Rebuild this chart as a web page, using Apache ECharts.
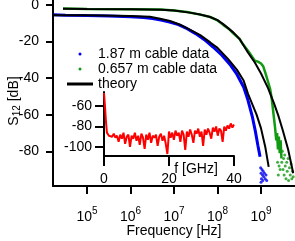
<!DOCTYPE html>
<html><head><meta charset="utf-8">
<script src="https://cdn.jsdelivr.net/npm/echarts@6/dist/echarts.min.js"></script>
<style>html,body{margin:0;padding:0;background:#fff}#c{width:295px;height:241px}</style>
</head><body><div id="c"></div>
<script>
// ---- tick values ----
const xTickValues = [1e5, 1e6, 1e7, 1e8, 1e9];
const yTickValues = [0, -20, -40, -60, -80];
const insetXTickValues = [0, 20, 40];
const insetYTickValues = [-60, -80, -100];

// ---- 1.87 m cable data ----
const cable187Freq = [1.7e4, 3.2e4, 1e5, 3.2e5, 1e6, 2e6, 3.2e6, 5e6, 7.9e6, 1.26e7, 2e7, 3.2e7, 5e7, 7.9e7, 1.26e8, 2e8, 2.8e8, 4e8, 5e8, 6.3e8, 7.4e8, 8.5e8, 9.5e8];
const cable187dB   = [-5.3, -5.6, -5.8, -6.0, -6.4, -6.9, -7.4, -8.3, -9.3, -10.8, -13, -15.8, -19, -23, -27.5, -33, -38, -45, -52, -61, -69, -77, -83];
const cable187TailFreq = [9.8e8, 1.0e9, 1.0e9, 1.02e9, 1.05e9, 1.08e9, 1.1e9, 1.12e9, 1.15e9, 1.2e9, 1.25e9, 1.3e9, 1.35e9];
const cable187TailDB   = [-89, -92, -97, -95, -90, -93, -96, -91, -94, -92, -95, -93, -96];

// ---- 0.657 m cable data ----
const cable657Freq = [2.8e4, 1e5, 1e6, 5e6, 1e7, 2e7, 4e7, 6.8e7, 1e8, 1.35e8, 1.8e8, 2.3e8, 3.2e8, 3.6e8, 5e8, 6.3e8, 7.2e8, 8.5e8, 1e9, 1.12e9, 1.29e9, 1.45e9, 1.62e9, 1.78e9, 1.9e9, 2.1e9, 2.24e9, 2.34e9, 2.45e9, 2.57e9, 2.69e9, 2.82e9, 2.95e9];
const cable657dB   = [-2.0, -2.2, -2.3, -2.5, -3.0, -3.9, -5.3, -6.6, -8.5, -10.9, -13, -15.5, -18.5, -20.5, -25, -28.5, -30.5, -31, -32, -33.5, -38, -42, -46, -52, -58, -67, -74, -70, -79, -72, -81, -74, -84];
const cable657TailFreq = [2.4e9, 2.5e9, 2.6e9, 2.75e9, 3.0e9, 3.1e9, 3.2e9, 3.3e9, 3.4e9, 3.5e9, 3.6e9, 3.75e9, 3.9e9, 4.0e9, 4.2e9, 4.3e9, 4.5e9, 4.7e9, 4.9e9, 5.1e9, 5.3e9, 5.5e9];
const cable657TailDB   = [-86, -93, -88, -90, -86, -80, -90, -84, -93, -82, -88, -95, -86, -91, -84, -96, -89, -93, -87, -95, -91, -94];

// ---- theory ----
const theory187Freq = [1.66e4, 1e5, 1e6, 2.8e6, 4.8e6, 8.1e6, 1.38e7, 2.3e7, 4e7, 6.8e7, 1e8, 1.74e8, 2.8e8, 4e8, 5e8, 7.9e8, 1e9, 1.26e9, 1.5e9];
const theory187dB   = [-5.6, -5.7, -6.0, -6.5, -7.5, -8.8, -10.8, -13.5, -16.5, -20.5, -23.5, -29.5, -35.5, -41.5, -48.5, -60, -67.5, -78, -88.5];
const theory657Freq = [2.8e4, 1e5, 1e6, 5e6, 1e7, 2.3e7, 4e7, 6.8e7, 1e8, 1.35e8, 2.3e8, 3.3e8, 5e8, 7.2e8, 1e9, 1.45e9, 2e9, 2.5e9, 3.16e9, 4.2e9, 5.5e9];
const theory657dB   = [-2.1, -2.2, -2.3, -2.6, -3.1, -4.2, -5.2, -6.6, -8.3, -10.5, -15, -19, -26, -31.5, -37.5, -45.5, -54, -60.5, -68.5, -79, -92];

// ---- inset: f [GHz] vs dB ----
const insetFreqGHz = [0, 0.3, 0.6, 0.9, 1.5, 2, 2.5, 3, 3.5, 4, 4.5, 5, 5.5, 6, 6.5, 7, 7.5, 8, 8.5, 9, 9.5, 10, 10.5, 11, 11.5, 12, 12.5, 13, 13.5, 14, 14.5, 15, 15.5, 16, 16.5, 17, 17.5, 18, 18.5, 19, 19.5, 20, 20.5, 21, 21.5, 22, 22.5, 23, 23.5, 24, 24.5, 25, 25.5, 26, 26.5, 27, 27.5, 28, 28.5, 29, 29.5, 30, 30.5, 31, 31.5, 32, 32.5, 33, 33.5, 34, 34.5, 35, 35.5, 36, 36.5, 37, 37.5, 38, 38.5, 39, 39.5, 40];
const insetdB = [-47, -60, -75, -86, -89, -88, -90, -87, -91, -89, -95, -88, -92, -86, -97, -90, -88, -100, -89, -92, -86, -94, -89, -98, -87, -91, -102, -88, -93, -86, -96, -89, -91, -88, -99, -90, -87, -94, -89, -97, -107, -85, -91, -86, -93, -84, -89, -86, -95, -84, -88, -103, -85, -90, -83, -88, -96, -84, -87, -82, -90, -85, -99, -83, -88, -82, -86, -92, -81, -85, -80, -89, -82, -84, -95, -80, -84, -79, -82, -77, -81, -78];

const zip = (a, b) => a.map((v, i) => [v, b[i]]);

const FONT = 'Liberation Sans, Arial, sans-serif';
const BLUE = '#0000f0', GREEN = '#139a13', RED = '#ff0000';
const txt = { color: '#000', fontFamily: FONT, fontSize: 14 };
const lineBlack = { onZero: false, lineStyle: { color: '#000', width: 2 } };

const chart = echarts.init(document.getElementById('c'), null, { renderer: 'canvas' });
chart.setOption({
  animation: false,
  backgroundColor: '#fff',
  textStyle: { fontFamily: FONT },
  grid: [
    { left: 53, top: 0, right: 0, bottom: 55, outerBoundsMode: 'none', containLabel: false },
    { left: 104, top: 92, width: 130, height: 64, outerBoundsMode: 'none', containLabel: false }
  ],
  legend: {
    orient: 'vertical', left: 62, top: 42, itemWidth: 26, itemHeight: 3, itemGap: 1,
    textStyle: Object.assign({}, txt, { lineHeight: 14 }),
    data: [
      { name: '1.87 m cable data', icon: 'circle' },
      { name: '0.657 m cable data', icon: 'circle' },
      { name: 'theory', icon: 'rect' }
    ]
  },
  xAxis: [
    {
      type: 'log', gridIndex: 0, logBase: 10, min: 16520, max: 6.04e9,
      name: 'Frequency [Hz]', nameLocation: 'middle', nameGap: 38, nameMoveOverlap: false,
      nameTextStyle: txt,
      axisLine: lineBlack,
      axisTick: { show: true, customValues: xTickValues, length: 8, lineStyle: { color: '#000', width: 2 } },
      axisLabel: {
        customValues: xTickValues, margin: 20, color: '#000', fontFamily: FONT, fontSize: 14,
        formatter: v => '10{sup|' + Math.round(Math.log10(v)) + '}',
        rich: { sup: { fontSize: 10, fontFamily: FONT, color: '#000', padding: [0, 0, 12, 0] } }
      },
      splitLine: { show: false }, minorTick: { show: false }
    },
    {
      type: 'value', gridIndex: 1, min: 0, max: 40,
      name: 'f [GHz]', nameLocation: 'middle', nameGap: 6, nameMoveOverlap: false,
      nameTextStyle: Object.assign({}, txt, { padding: [0, 0, 0, 54] }),
      axisLine: lineBlack,
      axisTick: { show: true, customValues: insetXTickValues, length: 10, lineStyle: { color: '#000', width: 2 } },
      axisLabel: { customValues: insetXTickValues, margin: 16, color: '#000', fontFamily: FONT, fontSize: 14 },
      splitLine: { show: false }
    }
  ],
  yAxis: [
    {
      type: 'value', gridIndex: 0, min: -99, max: 2.7,
      name: 'S{sub|12} [dB]', nameLocation: 'middle', nameGap: 31, nameMoveOverlap: false,
      nameTextStyle: Object.assign({}, txt, {
        padding: [0, 16, 0, 0],
        rich: { sub: { fontSize: 10, fontFamily: FONT, color: '#000', padding: [6, 0, 0, 0] } }
      }),
      axisLine: Object.assign({ show: true }, lineBlack),
      axisTick: { show: true, customValues: yTickValues, length: 7, lineStyle: { color: '#000', width: 2 } },
      axisLabel: { customValues: yTickValues, margin: 14, color: '#000', fontFamily: FONT, fontSize: 14 },
      splitLine: { show: false }
    },
    {
      type: 'value', gridIndex: 1, min: -109, max: -46,
      axisLine: Object.assign({ show: true }, lineBlack),
      axisTick: { show: true, customValues: insetYTickValues, length: 9, lineStyle: { color: '#000', width: 2 } },
      axisLabel: { customValues: insetYTickValues, margin: 12, color: '#000', fontFamily: FONT, fontSize: 14 },
      splitLine: { show: false }
    }
  ],
  series: [
    { name: '1.87 m cable data', type: 'line', xAxisIndex: 0, yAxisIndex: 0, data: zip(cable187Freq, cable187dB),
      showSymbol: false, color: BLUE, lineStyle: { color: BLUE, width: 3 } },
    { name: '0.657 m cable data', type: 'line', xAxisIndex: 0, yAxisIndex: 0, data: zip(cable657Freq, cable657dB),
      showSymbol: false, color: GREEN, lineStyle: { color: GREEN, width: 2.5 } },
    { name: 'tail187', type: 'scatter', xAxisIndex: 0, yAxisIndex: 0, data: zip(cable187TailFreq, cable187TailDB),
      symbolSize: 3, itemStyle: { color: BLUE } },
    { name: 'tail657', type: 'scatter', xAxisIndex: 0, yAxisIndex: 0, data: zip(cable657TailFreq, cable657TailDB),
      symbolSize: 3, itemStyle: { color: GREEN } },
    { name: 'theory', type: 'line', xAxisIndex: 0, yAxisIndex: 0, data: zip(theory187Freq, theory187dB),
      showSymbol: false, color: '#000', lineStyle: { color: '#000', width: 2 } },
    { name: 'theory', type: 'line', xAxisIndex: 0, yAxisIndex: 0, data: zip(theory657Freq, theory657dB),
      showSymbol: false, color: '#000', lineStyle: { color: '#000', width: 2 } },
    { name: 'inset', type: 'line', xAxisIndex: 1, yAxisIndex: 1, data: zip(insetFreqGHz, insetdB),
      showSymbol: false, color: RED, lineStyle: { color: RED, width: 2 } }
  ]
});
</script>
</body></html>
